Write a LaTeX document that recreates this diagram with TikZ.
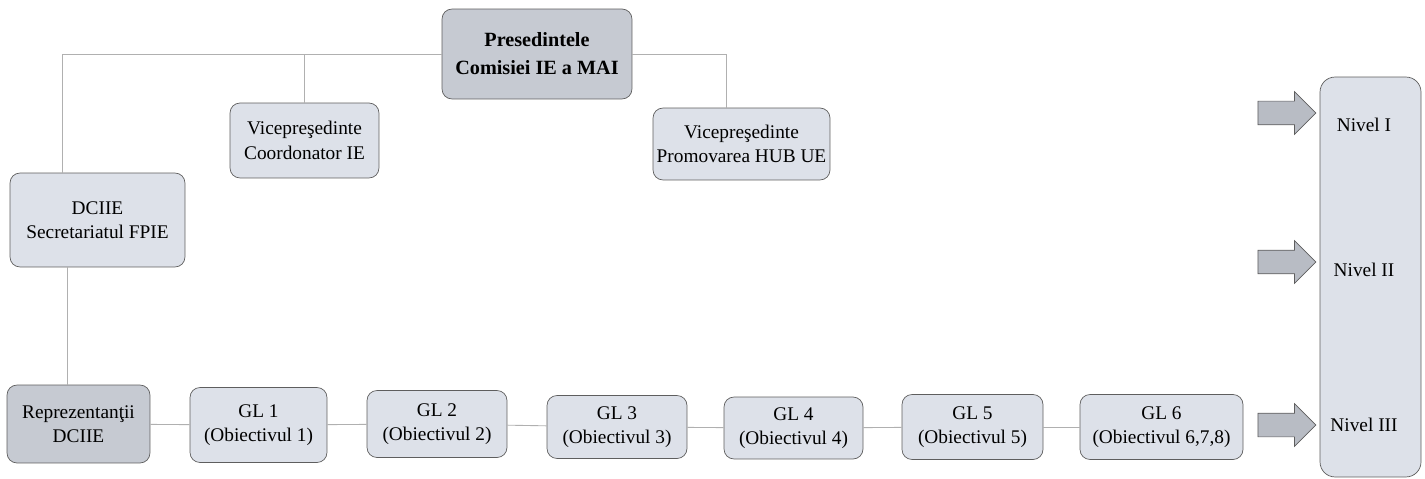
\documentclass[tikz,border=0pt]{standalone}
\usepackage{fontspec}
\setmainfont{Liberation Serif}
\usepackage{tikz}
\usetikzlibrary{shapes.arrows}
\definecolor{boxfill}{HTML}{DDE1E9}
\definecolor{boxdark}{HTML}{C6CAD2}
\definecolor{boxline}{HTML}{5E5E5E}
\definecolor{linkline}{HTML}{B0B0B0}
\definecolor{arrowfill}{HTML}{B8BCC4}
\tikzstyle{box}=[draw=boxline, fill=boxfill, rounded corners=0.2cm, align=center, inner sep=0pt, font=\rmfamily\fontsize{11}{14}\selectfont]
\tikzstyle{darkbox}=[box, fill=boxdark]
\tikzstyle{link}=[draw=linkline, line width=0.5pt]
\tikzstyle{blockarrow}=[single arrow, draw=boxline, fill=arrowfill, inner sep=0.23cm, single arrow head extend=0.19cm, minimum height=1.16cm]
\tikzstyle{level}=[font=\rmfamily\fontsize{11}{14}\selectfont]

\begin{document}
\begin{tikzpicture}[x=0.02cm, y=-0.02cm]
	\useasboundingbox (0,0) rectangle (1425,479);
	\begin{scope}
		\node (pres) at (537, 54)[darkbox, minimum width=3.8cm, minimum height=1.8cm, font=\rmfamily\fontsize{11.5}{16}\selectfont\bfseries] {Presedintele\\Comisiei IE a MAI};
		\node (vp1) at (304.5, 140.5)[box, minimum width=2.98cm, minimum height=1.5cm] {Vicepreşedinte\\Coordonator IE};
		\node (vp2) at (741.5, 144)[box, minimum width=3.54cm, minimum height=1.44cm] {Vicepreşedinte\\Promovarea HUB UE};
		\node (dciie) at (97.5, 220)[box, minimum width=3.5cm, minimum height=1.88cm] {DCIIE\\Secretariatul FPIE};
		\node (repr) at (78.5, 424)[darkbox, minimum width=2.86cm, minimum height=1.56cm] {Reprezentanţii\\DCIIE};
		\node (gl1) at (258.5, 425)[box, minimum width=2.74cm, minimum height=1.5cm] {GL 1\\(Obiectivul 1)};
		\node (gl2) at (437, 424)[box, minimum width=2.8cm, minimum height=1.34cm] {GL 2\\(Obiectivul 2)};
		\node (gl3) at (617, 427)[box, minimum width=2.8cm, minimum height=1.26cm] {GL 3\\(Obiectivul 3)};
		\node (gl4) at (793.5, 428)[box, minimum width=2.78cm, minimum height=1.24cm] {GL 4\\(Obiectivul 4)};
		\node (gl5) at (972.5, 427)[box, minimum width=2.82cm, minimum height=1.3cm] {GL 5\\(Obiectivul 5)};
		\node (gl6) at (1161.5, 427)[box, minimum width=3.26cm, minimum height=1.3cm] {GL 6\\(Obiectivul 6,7,8)};
		\node (nivel) at (1370.5, 277)[box, rounded corners=0.3cm, minimum width=2.02cm, minimum height=8cm] {};
		\node (n1) at (1364, 125)[level] {Nivel I};
		\node (n2) at (1364, 270)[level] {Nivel II};
		\node (n3) at (1364, 425)[level] {Nivel III};
		\node (a1) at (1281, 113)[blockarrow] {};
		\node (a2) at (1281, 262)[blockarrow] {};
		\node (a3) at (1281, 425)[blockarrow] {};
	\end{scope}
	\begin{scope}
		% top bar
		\path [link] (pres.west) -| ([xshift=-0.7cm]dciie.north);
		\path [link] (vp1.north) -- (vp1.north |- pres.west);
		\path [link] (pres.east) -| ([xshift=-0.3cm]vp2.north);
		\path [link] ([xshift=-0.6cm]dciie.south) -- ([xshift=-0.6cm]dciie.south |- repr.north);
		% working groups
		\foreach \a/\b in {repr/gl1, gl1/gl2, gl2/gl3, gl3/gl4, gl4/gl5, gl5/gl6}
			\path [link] (\a) -- (\b);
	\end{scope}
\end{tikzpicture}
\end{document}
